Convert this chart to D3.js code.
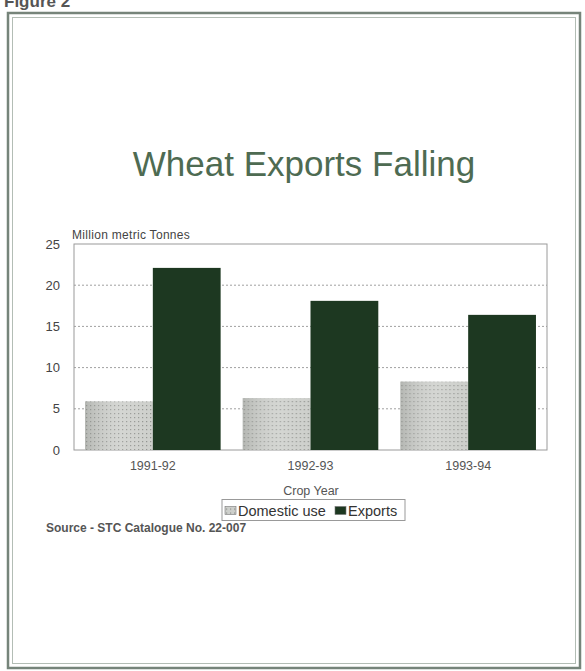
<!DOCTYPE html>
<html>
<head>
<meta charset="utf-8">
<script src="https://cdn.jsdelivr.net/npm/d3@7"></script>
<style>
  html, body { margin: 0; padding: 0; background: #fff; }
  svg { display: block; font-family: Arial, "Liberation Sans", sans-serif; }
</style>
</head>
<body>
<svg id="chart" width="585" height="671"></svg>
<script>
// Crop years and wheat volumes (million metric tonnes)
const cropYears = ["1991-92", "1992-93", "1993-94"];
const domesticUse = [5.9, 6.3, 8.3];
const exportsVol = [22.1, 18.1, 16.4];
const seriesNames = ["Domestic use", "Exports"];
const yTicks = [0, 5, 10, 15, 20, 25];

const svg = d3.select("#chart");

// Patterns for the domestic-use bars
const defs = svg.append("defs");
const dots = defs.append("pattern")
  .attr("id", "dotFill").attr("patternUnits", "userSpaceOnUse")
  .attr("width", 4).attr("height", 4);
dots.append("rect").attr("width", 4).attr("height", 4).attr("fill", "#cdcfcb");
dots.append("rect").attr("x", 1).attr("y", 1).attr("width", 1.2).attr("height", 1.2).attr("fill", "#8e908c");
const shade = defs.append("linearGradient").attr("id", "shade")
  .attr("x1", 0).attr("x2", 1).attr("y1", 0).attr("y2", 0);
shade.append("stop").attr("offset", "0%").attr("stop-color", "#8f918d").attr("stop-opacity", 0.4);
shade.append("stop").attr("offset", "55%").attr("stop-color", "#ffffff").attr("stop-opacity", 0.15);
shade.append("stop").attr("offset", "100%").attr("stop-color", "#ffffff").attr("stop-opacity", 0.0);

// Figure caption at the top edge
svg.append("text").attr("x", 4).attr("y", 7)
  .attr("font-size", 17).attr("font-weight", "bold").attr("fill", "#555")
  .text("Figure 2");

// Page frame
svg.append("rect").attr("x", 8).attr("y", 13).attr("width", 572).attr("height", 655)
  .attr("fill", "none").attr("stroke", "#76847a").attr("stroke-width", 2.5);
svg.append("rect").attr("x", 12.5).attr("y", 17.5).attr("width", 563).attr("height", 646)
  .attr("fill", "none").attr("stroke", "#b3bdb5").attr("stroke-width", 1);

// Title
svg.append("text").attr("x", 304).attr("y", 176).attr("text-anchor", "middle")
  .attr("font-size", 35).attr("fill", "#4e6b52")
  .text("Wheat Exports Falling");

// Plot area
const plot = { left: 74, right: 547, top: 244, bottom: 450 };

const x = d3.scaleBand().domain(cropYears)
  .range([plot.left, plot.right]).paddingInner(0.14).paddingOuter(0.07);
const xSeries = d3.scaleBand().domain(seriesNames).range([0, x.bandwidth()]);
const y = d3.scaleLinear().domain([0, 25]).range([plot.bottom, plot.top]);

// Gridlines
svg.append("g").selectAll("line").data(yTicks.filter(d => d > 0 && d < 25)).join("line")
  .attr("x1", plot.left).attr("x2", plot.right)
  .attr("y1", d => y(d)).attr("y2", d => y(d))
  .attr("stroke", "#a0a0a0").attr("stroke-width", 1).attr("stroke-dasharray", "2,2");

// Plot border
svg.append("rect").attr("x", plot.left).attr("y", plot.top)
  .attr("width", plot.right - plot.left).attr("height", plot.bottom - plot.top)
  .attr("fill", "none").attr("stroke", "#9a9a9a").attr("stroke-width", 1);

// Bars
const groups = svg.append("g").selectAll("g").data(cropYears).join("g")
  .attr("transform", d => `translate(${x(d)},0)`);

groups.append("rect")
  .attr("x", xSeries("Domestic use")).attr("width", xSeries.bandwidth())
  .attr("y", (d, i) => y(domesticUse[i])).attr("height", (d, i) => y(0) - y(domesticUse[i]))
  .attr("fill", "url(#dotFill)");
groups.append("rect")
  .attr("x", xSeries("Domestic use")).attr("width", xSeries.bandwidth())
  .attr("y", (d, i) => y(domesticUse[i])).attr("height", (d, i) => y(0) - y(domesticUse[i]))
  .attr("fill", "url(#shade)");
groups.append("rect")
  .attr("x", xSeries("Exports")).attr("width", xSeries.bandwidth())
  .attr("y", (d, i) => y(exportsVol[i])).attr("height", (d, i) => y(0) - y(exportsVol[i]))
  .attr("fill", "#1d3821");

// Y axis
const yAxis = svg.append("g").attr("transform", `translate(${plot.left},0)`)
  .call(d3.axisLeft(y).tickValues(yTicks).tickSize(0).tickPadding(14));
yAxis.select(".domain").remove();
yAxis.selectAll("text").attr("font-size", 13).attr("fill", "#444")
  .attr("font-family", "Arial, 'Liberation Sans', sans-serif");

svg.append("text").attr("x", 72).attr("y", 239)
  .attr("font-size", 12).attr("letter-spacing", 0.3).attr("fill", "#444")
  .text("Million metric Tonnes");

// X axis
const xAxis = svg.append("g").attr("transform", `translate(0,${plot.bottom})`)
  .call(d3.axisBottom(x).tickSize(0).tickPadding(11));
xAxis.select(".domain").remove();
xAxis.selectAll("text").attr("font-size", 12.5).attr("fill", "#555")
  .attr("font-family", "Arial, 'Liberation Sans', sans-serif");

svg.append("text").attr("x", 311).attr("y", 495).attr("text-anchor", "middle")
  .attr("font-size", 12.5).attr("fill", "#555").text("Crop Year");

// Legend
const legend = svg.append("g").attr("transform", "translate(222,499.5)");
legend.append("rect").attr("width", 183).attr("height", 21)
  .attr("fill", "#fff").attr("stroke", "#999").attr("stroke-width", 1);
const legendFills = ["url(#dotFill)", "#1d3821"];
const legendX = [3, 113];
const items = legend.selectAll("g.item").data(seriesNames).join("g")
  .attr("class", "item").attr("transform", (d, i) => `translate(${legendX[i]},0)`);
items.append("rect").attr("y", 7).attr("width", 11).attr("height", 8)
  .attr("fill", (d, i) => legendFills[i]).attr("stroke", "#777").attr("stroke-width", 0.6);
items.append("text").attr("x", 13).attr("y", 16)
  .attr("font-size", 14.5).attr("fill", "#333").text(d => d);

// Source note
svg.append("text").attr("x", 46).attr("y", 532)
  .attr("font-size", 12).attr("font-weight", "bold").attr("fill", "#555")
  .text("Source - STC Catalogue No. 22-007");
</script>
</body>
</html>
